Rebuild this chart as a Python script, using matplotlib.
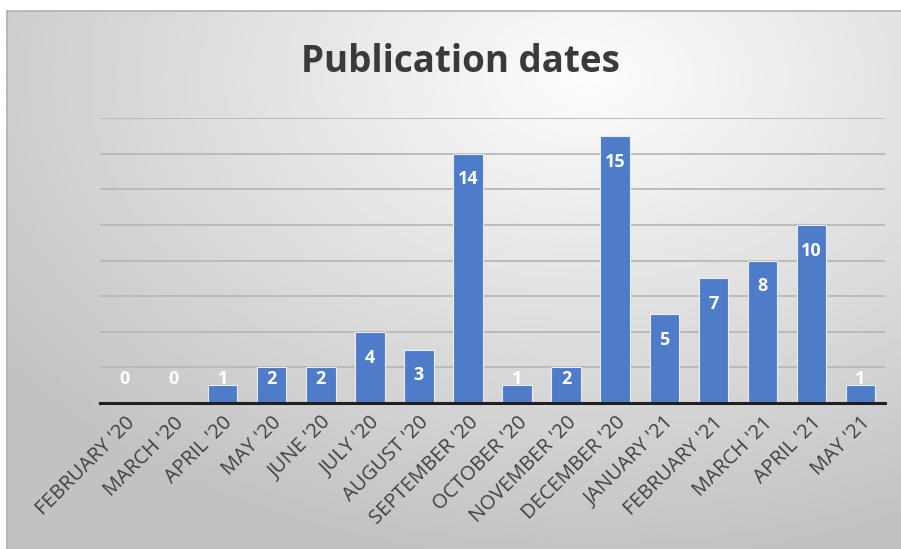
import numpy as np
import matplotlib
matplotlib.use("Agg")
import matplotlib.pyplot as plt

# ── Data ────────────────────────────────────────────────────────────────
MONTHS = [
    "FEBRUARY '20", "MARCH '20", "APRIL '20", "MAY '20", "JUNE '20",
    "JULY '20", "AUGUST '20", "SEPTEMBER '20", "OCTOBER '20",
    "NOVEMBER '20", "DECEMBER '20", "JANUARY '21", "FEBRUARY '21",
    "MARCH '21", "APRIL '21", "MAY '21",
]
COUNTS = [0, 0, 1, 2, 2, 4, 3, 14, 1, 2, 15, 5, 7, 8, 10, 1]

BAR_COLOR = "#4F7CC8"
TEXT_DARK = "#404040"
FONT = "Open Sans"

W, H = 901, 549
fig = plt.figure(figsize=(W / 100, H / 100), dpi=100, facecolor="white")

# ── Gradient background frame ──
bg = fig.add_axes([7 / W, 0, 1 - 7 / W, 1 - 11 / H], zorder=-2)
gx, gy = np.meshgrid(np.linspace(0, 1, 300), np.linspace(0, 1, 200))
dist = np.sqrt(((gx - 0.65) / 0.85) ** 2 + ((gy - 0.12) / 0.95) ** 2)
shade = np.clip(0.99 - 0.24 * dist, 0.76, 1.0)
bg.imshow(shade, cmap="gray", vmin=0, vmax=1, aspect="auto",
          extent=[0, 1, 1, 0], interpolation="bilinear")
bg.set_xlim(0, 1)
bg.set_ylim(1, 0)
bg.set_xticks([])
bg.set_yticks([])
for side, sp in bg.spines.items():
    sp.set_visible(side in ("top", "left"))
    sp.set_color("#B0B0B0")
    sp.set_linewidth(1.2)

# ── Bar chart ──
ax = fig.add_axes([100 / W, 1 - 403 / H, 785 / W, 285 / H])
ax.patch.set_alpha(0)
x = np.arange(len(MONTHS))
ax.bar(x, COUNTS, width=0.6, color=BAR_COLOR, edgecolor="#E8EEF8",
       linewidth=0.8, zorder=3)

ax.set_xlim(-0.5, len(MONTHS) - 0.5)
ax.set_ylim(0, 16)
ax.set_yticks(range(2, 17, 2))
ax.yaxis.grid(True, color="#B8B8B8", linewidth=1.3, zorder=1)
ax.tick_params(axis="y", left=False, labelleft=False)
ax.tick_params(axis="x", length=0, pad=7)
for side in ("top", "right", "left"):
    ax.spines[side].set_visible(False)
ax.spines["bottom"].set_color("#202020")
ax.spines["bottom"].set_linewidth(2.2)
ax.spines["bottom"].set_zorder(4)

ax.set_xticks(x)
ax.set_xticklabels(MONTHS, rotation=45, ha="right", rotation_mode="anchor",
                   fontsize=14.5, color=TEXT_DARK, family=FONT)

# value labels: inside end, clamped above the baseline
for xi, v in zip(x, COUNTS):
    ax.text(xi, max(v - 1.45, 1.35), str(v), ha="center", va="center",
            fontsize=13, fontweight="bold", color="white", family=FONT,
            zorder=5)

# ── Title ──
fig.text(460 / W, 1 - 62 / H, "Publication dates", ha="center", va="center",
         fontsize=26.5, fontweight="bold", color="#3A3A3A", family=FONT)

fig.savefig("out.png", dpi=100, facecolor="white")
